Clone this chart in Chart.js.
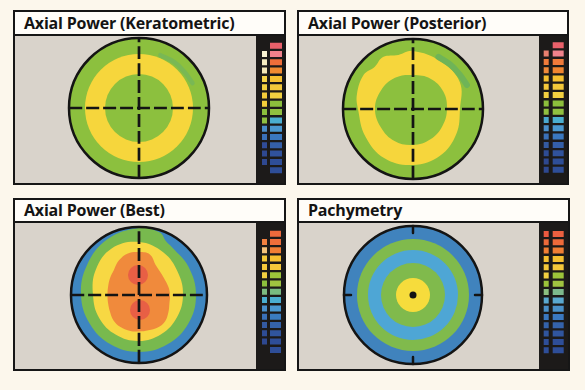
<!DOCTYPE html>
<html>
<head>
<meta charset="utf-8">
<script src="https://cdn.jsdelivr.net/npm/chart.js@4.4.1/dist/chart.umd.min.js"></script>
<style>
  body { margin: 0; width: 585px; height: 390px; overflow: hidden; position: relative; background: #fcf7ec; font-family: "Open Sans", sans-serif; }
  .panel { position: absolute; box-sizing: border-box; border: 2px solid #161616; background: #d9d3cb; }
  .title { background: #fffdf9; border-bottom: 2px solid #161616; padding-left: 9px; font-weight: 700; font-size: 16px; letter-spacing: -0.2px; color: #141414; white-space: nowrap; }
  .body { display: flex; }
  .body canvas { display: block; }
  .strip { background: #1c1a19; }
</style>
</head>
<body>
<script>
// contours: angle (degrees, counter-clockwise from the right) and radius

// Axial Power (Keratometric): concentric ring radii, outermost first
const kerRings = [70, 54, 34];
const kerRingColors = ['#8cc03e', '#f6d63c', '#8cc03e'];
const kerArcAngles = [25, 38, 52, 68];
const kerArcRadii = [59, 58, 58, 57];

// Axial Power (Posterior)
const postOuter = 70;
const postYellowAngles = [0, 30, 60, 90, 105, 120, 132, 145, 165, 180, 210, 240, 270, 300, 330];
const postYellowRadii = [47, 54, 55, 58, 56, 60, 57, 60, 58, 55, 55, 57, 56, 54, 50];
const postInnerAngles = [0, 30, 60, 90, 120, 150, 180, 210, 240, 270, 300, 330];
const postInnerRadii = [34, 35, 35, 34, 36, 37, 38, 37, 37, 36, 35, 34];
const postArcAngles = [24, 36, 50, 64];
const postArcRadii = [59, 58, 58, 58];

// Axial Power (Best)
const bestOuter = 68;
const bestGreenAngles = [0, 30, 55, 63, 72, 90, 120, 150, 180, 210, 240, 270, 300, 330];
const bestGreenRadii = [57, 57, 58, 60, 66, 67, 64, 60, 58, 57, 57, 57, 57, 57];
const bestYellowAngles = [0, 30, 60, 90, 120, 150, 180, 210, 240, 270, 300, 330];
const bestYellowRadii = [44, 45, 49, 53, 54, 50, 46, 46, 46, 46, 45, 44];
const bestOrangeAngles = [0, 15, 30, 45, 60, 75, 90, 105, 120, 135, 150, 165, 180, 195, 210, 225, 240, 255, 270, 285, 300, 315, 330, 345];
const bestOrangeRadii = [31, 30.5, 30, 31, 34, 42, 43, 43, 40, 35.5, 33.5, 32, 31.5, 32, 33.5, 36, 37, 37, 36.5, 36.5, 37.5, 37, 34, 31.5];
const bestSpots = [{x: -1, y: 20, r: 10}, {x: 1, y: -15, r: 10}];

// Pachymetry: concentric ring radii, outermost first
const pachRings = [69, 56, 45, 32, 17, 3.5];
const pachRingColors = ['#4083bd', '#80ba4c', '#4ea6d5', '#80ba4c', '#f6dc3c', '#141414'];

// colour scales (right column / left column, null = no cell)
const kerScaleR = ['#e8606a', '#f0828c', '#ee6e3a', '#f08a30', '#f5c030', '#f3c83a', '#f1d040', '#8cbf3c', '#90c040', '#4aaed0', '#4a98d0', '#3a78c0', '#345fa8', '#30529c', '#2e4e98', '#2e4e98'];
const kerScaleL = [null, '#f8f2d2', '#f6ecc0', '#f4e8b8', '#f6d44a', '#f4d040', '#f4cc3a', '#f2cc3a', '#8cbf3c', '#90c040', '#4a8cc8', '#3a70b8', '#304c98', '#2e4890', '#2e4890', null];
const postScaleR = ['#e8606a', '#f0828c', '#f07a3a', '#f08530', '#f5c030', '#f3c83a', '#f2d040', '#8cbf3c', '#90c040', '#4aaed0', '#4a98d0', '#3a78c0', '#345fa8', '#30529c', '#2e4e98', '#2e4e98'];
const postScaleL = [null, '#e88070', '#f07a3a', '#f08a3a', '#f5c030', '#f5c83a', '#f3d040', '#8cbf3c', '#90c040', '#4aa8d0', '#4a90cc', '#3a70b8', '#345aa0', '#2e4c94', '#2e4890', '#2e4890'];
const bestScaleR = ['#ec6a3c', '#ee6e3a', '#f07e34', '#f5c030', '#f5c83a', '#9cc43a', '#a0c440', '#78bb80', '#4aaed0', '#4a98d0', '#3a7cc0', '#3462aa', '#30559e', '#2e4e98', '#2e4e98'];
const bestScaleL = [null, '#f08040', '#f4c27a', '#f5c838', '#f5c83a', '#f3d040', '#8cbf3c', '#7cbb80', '#4aaed0', '#4a90cc', '#3a70b8', '#345aa0', '#2e4c94', '#2e4890', null];
const pachScaleR = ['#ec6040', '#ee6a3a', '#f07e34', '#f5c030', '#f5c83a', '#9cc43a', '#a0c440', '#7cb88c', '#5aa8d0', '#4a90c8', '#3a78c0', '#3462aa', '#30559e', '#2e4e98', '#2e4e98'];
const pachScaleL = ['#ec5a40', '#ee6a3a', '#f07e34', '#f5c030', '#f5c83a', '#f3d040', '#9cc43a', '#8cbf80', '#5aa8d0', '#4a90c8', '#3a78c0', '#3462aa', '#30559e', '#2e4e98', '#2e4e98'];

const titles = ['Axial Power (Keratometric)', 'Axial Power (Posterior)', 'Axial Power (Best)', 'Pachymetry'];

const INK = '#141414';
const rad = d => d * Math.PI / 180;

function polarPts(angs, radii) {
  return angs.map((a, i) => ({x: radii[i] * Math.cos(rad(a)), y: radii[i] * Math.sin(rad(a))}));
}

// closed outline: wrap one point on each end so the spline closes smoothly
function contour(angs, radii) {
  const pts = polarPts(angs, radii);
  const n = pts.length;
  return [pts[n - 1], ...pts, pts[0], pts[1]];
}

function disc(r, color) {
  return {type: 'bubble', data: [{x: 0, y: 0, r: r}], backgroundColor: color, borderWidth: 0, clip: false};
}

function blob(angs, radii, color) {
  return {type: 'line', data: contour(angs, radii), backgroundColor: color, borderColor: color, borderWidth: 0,
    pointRadius: 0, tension: 0.4, fill: 'shape', clip: false};
}

function stroke(points, color, width, dash) {
  return {type: 'line', data: points, borderColor: color, borderWidth: width, borderDash: dash || [],
    pointRadius: 0, fill: false, tension: 0.4, borderCapStyle: dash ? 'butt' : 'round', clip: false};
}

function crosshair(r) {
  return [
    stroke([{x: -r, y: 0}, {x: r, y: 0}], INK, 2.7, [13, 4]),
    stroke([{x: 0, y: -r}, {x: 0, y: r}], INK, 2.7, [13, 4])
  ];
}

function rim(r) {
  return {type: 'bubble', data: [{x: 0, y: 0, r: r}], backgroundColor: 'rgba(0,0,0,0)', borderColor: INK, borderWidth: 2.5, clip: false};
}

// layers listed bottom first
const layers = [
  [
    ...kerRings.map((r, i) => disc(r, kerRingColors[i])),
    stroke(polarPts(kerArcAngles, kerArcRadii), '#79b854', 4.5),
    ...crosshair(kerRings[0]),
    rim(kerRings[0])
  ],
  [
    disc(postOuter, '#8cc03e'),
    blob(postYellowAngles, postYellowRadii, '#f6d63c'),
    blob(postInnerAngles, postInnerRadii, '#8cc03e'),
    stroke(polarPts(postArcAngles, postArcRadii), '#6fb457', 6),
    ...crosshair(postOuter),
    rim(postOuter)
  ],
  [
    disc(bestOuter, '#3e86c0'),
    blob(bestGreenAngles, bestGreenRadii, '#78b94e'),
    blob(bestYellowAngles, bestYellowRadii, '#f7d843'),
    blob(bestOrangeAngles, bestOrangeRadii, '#f08a3c'),
    {type: 'bubble', data: bestSpots, backgroundColor: '#e85f45', borderWidth: 0, clip: false},
    ...crosshair(bestOuter),
    rim(bestOuter)
  ],
  [
    ...pachRings.map((r, i) => disc(r, pachRingColors[i])),
    stroke([{x: 0, y: 69}, {x: 0, y: 62}], INK, 2.5),
    stroke([{x: 0, y: -69}, {x: 0, y: -62}], INK, 2.5),
    stroke([{x: -69, y: 0}, {x: -62, y: 0}], INK, 2.5),
    stroke([{x: 69, y: 0}, {x: 62, y: 0}], INK, 2.5),
    rim(pachRings[0])
  ]
];

const scales = [[kerScaleL, kerScaleR], [postScaleL, postScaleR], [bestScaleL, bestScaleR], [pachScaleL, pachScaleR]];

// frame geometry per panel (page pixels)
const frames = [
  {left: 13, top: 10, w: 273, h: 175, titleH: 22, stripW: 28, cx: 124, cy: 72, rowTop: 6.7, colL: [6, 11], colR: [14, 26]},
  {left: 297, top: 10, w: 272, h: 175, titleH: 22, stripW: 28, cx: 114, cy: 73, rowTop: 6.3, colL: [4.7, 9.7], colR: [13.7, 24.7]},
  {left: 13, top: 198, w: 273, h: 173, titleH: 21, stripW: 28, cx: 124, cy: 72, rowTop: 7.7, colL: [6, 11], colR: [14, 25]},
  {left: 297, top: 198, w: 273, h: 173, titleH: 21, stripW: 29, cx: 114, cy: 72, rowTop: 8, colL: [4.7, 9.7], colR: [13.7, 24.7]}
];
const ROW = 8.3, CELL = 6;

frames.forEach((f, k) => {
  const panel = document.createElement('div');
  panel.className = 'panel';
  Object.assign(panel.style, {left: f.left + 'px', top: f.top + 'px', width: f.w + 'px', height: f.h + 'px'});
  const title = document.createElement('div');
  title.className = 'title';
  title.style.height = f.titleH + 'px';
  title.style.lineHeight = f.titleH + 'px';
  title.textContent = titles[k];
  panel.appendChild(title);

  const bodyH = f.h - 4 - f.titleH - 2;
  const mapW = f.w - 4 - f.stripW;
  const body = document.createElement('div');
  body.className = 'body';
  const map = document.createElement('canvas');
  map.width = mapW; map.height = bodyH;
  const strip = document.createElement('canvas');
  strip.className = 'strip';
  strip.width = f.stripW; strip.height = bodyH;
  body.appendChild(map); body.appendChild(strip);
  panel.appendChild(body);
  document.body.appendChild(panel);

  new Chart(map, {
    type: 'bubble',
    data: {datasets: layers[k].slice().reverse()},
    options: {
      responsive: false, animation: false, events: [],
      layout: {padding: 0, autoPadding: false},
      plugins: {legend: {display: false}, tooltip: {enabled: false}},
      scales: {
        x: {type: 'linear', display: false, min: -f.cx, max: mapW - f.cx},
        y: {type: 'linear', display: false, min: -(bodyH - f.cy), max: f.cy}
      }
    }
  });

  const [left, right] = scales[k];
  const rows = right.map((c, i) => String(i + 1));
  const padTop = f.rowTop - (ROW - CELL) / 2;
  new Chart(strip, {
    type: 'bar',
    data: {
      labels: rows,
      datasets: [
        {data: left.map(c => c ? f.colL : null), backgroundColor: left, grouped: false},
        {data: right.map(() => f.colR), backgroundColor: right, grouped: false}
      ]
    },
    options: {
      indexAxis: 'y', responsive: false, animation: false, events: [],
      layout: {padding: {top: padTop, bottom: bodyH - padTop - rows.length * ROW, left: 0, right: 0}, autoPadding: false},
      datasets: {bar: {categoryPercentage: 1, barPercentage: CELL / ROW, borderWidth: 0}},
      plugins: {legend: {display: false}, tooltip: {enabled: false}},
      scales: {
        x: {type: 'linear', display: false, min: 0, max: f.stripW},
        y: {type: 'category', display: false, offset: true}
      }
    }
  });
});
</script>
</body>
</html>
